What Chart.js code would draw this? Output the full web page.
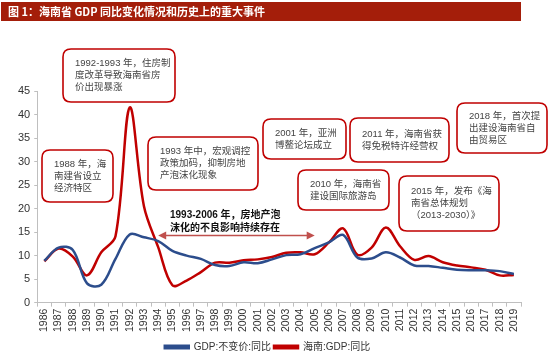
<!DOCTYPE html>
<html>
<head>
<meta charset="utf-8">
<script src="https://cdn.jsdelivr.net/npm/chart.js@4/dist/chart.umd.min.js"></script>
<style>
html,body{margin:0;padding:0;background:#fff;}
#wrap{width:553px;height:357px;position:relative;}
</style>
</head>
<body>
<div id="wrap"><canvas id="c" width="553" height="357"></canvas></div>
<script>
const years = ['1986','1987','1988','1989','1990','1991','1992','1993','1994','1995','1996','1997','1998','1999','2000','2001','2002','2003','2004','2005','2006','2007','2008','2009','2010','2011','2012','2013','2014','2015','2016','2017','2018','2019'];
const gdpChina = [8.9,11.7,11.2,4.1,3.8,9.3,14.5,13.9,13.1,11.0,10.0,9.3,8.0,7.8,8.6,8.4,9.2,10.1,10.3,11.6,12.8,14.4,9.6,9.4,10.7,9.6,7.9,7.8,7.4,7.0,6.9,6.9,6.7,6.1];
const gdpHainan = [8.8,11.5,9.8,5.8,10.7,14.1,41.5,20.5,11.8,3.7,4.7,6.5,8.5,8.5,9.0,9.2,9.7,10.6,10.7,10.3,12.8,15.8,10.2,11.7,16.0,12.0,9.1,9.9,8.6,7.9,7.5,7.0,5.8,5.9];
const seriesNames = ['GDP:不变价:同比','海南:GDP:同比'];
const yTicks = {min:0,max:45,step:5};
const titleText = '图 1：海南省 GDP 同比变化情况和历史上的重大事件';
const notes = [
  {x:63,y:49,w:112,h:53,lines:['1992-1993 年，住房制','度改革导致海南省房','价出现暴涨']},
  {x:42,y:150,w:71,h:52,lines:['1988 年，海','南建省设立','经济特区']},
  {x:148,y:137,w:110,h:53,lines:['1993 年中，宏观调控','政策加码，抑制房地','产泡沫化现象']},
  {x:263,y:119,w:83,h:40,lines:['2001 年，亚洲','博鳌论坛成立']},
  {x:350,y:118,w:99,h:44,lines:['2011 年，海南省获','得免税特许经营权']},
  {x:457,y:103,w:90,h:50,lines:['2018 年，首次提','出建设海南省自','由贸易区']},
  {x:298,y:170,w:91,h:40,lines:['2010 年，海南省','建设国际旅游岛']},
  {x:399,y:176,w:100,h:55,lines:['2015 年，发布《海','南省总体规划','（2013-2030）》']}
];
const boldNote = ['1993-2006 年，房地产泡','沫化的不良影响持续存在'];
const arrowSpan = ['1994','2005'];

const CJK = '"Liberation Sans","Noto Sans CJK SC",sans-serif';

function roundRect(ctx,x,y,w,h,r){
  ctx.beginPath();
  ctx.moveTo(x+r,y);
  ctx.lineTo(x+w-r,y);ctx.quadraticCurveTo(x+w,y,x+w,y+r);
  ctx.lineTo(x+w,y+h-r);ctx.quadraticCurveTo(x+w,y+h,x+w-r,y+h);
  ctx.lineTo(x+r,y+h);ctx.quadraticCurveTo(x,y+h,x,y+h-r);
  ctx.lineTo(x,y+r);ctx.quadraticCurveTo(x,y,x+r,y);
  ctx.closePath();
}

const decor = {
  id:'decor',
  afterLayout(chart){
    const lg = chart.legend;
    if(lg){ lg.top += 5; lg.bottom += 5; if(lg.adjustHitBoxes) lg.adjustHitBoxes(); }
  },
  beforeDraw(chart){
    const ctx = chart.ctx;
    ctx.save();
    ctx.fillStyle='#fff';ctx.fillRect(0,0,chart.width,chart.height);
    ctx.fillStyle='#A41E0A';
    ctx.fillRect(1,2,520,19);
    ctx.fillStyle='#fff';
    ctx.font='bold 11px "Noto Sans CJK SC",sans-serif';
    ctx.textBaseline='middle';
    ctx.fillText(titleText,8,12);
    ctx.restore();
  },
  afterDraw(chart){
    const ctx = chart.ctx;
    ctx.save();
    const xs = chart.scales.x;
    const x1 = xs.getPixelForValue(years.indexOf(arrowSpan[0]));
    const x2 = xs.getPixelForValue(years.indexOf(arrowSpan[1]));
    const ay = 235.5;
    ctx.strokeStyle='#C0504D';ctx.fillStyle='#C0504D';ctx.lineWidth=1.5;
    ctx.beginPath();ctx.moveTo(x1+5,ay);ctx.lineTo(x2-5,ay);ctx.stroke();
    ctx.beginPath();ctx.moveTo(x1,ay);ctx.lineTo(x1+8,ay-4);ctx.lineTo(x1+8,ay+4);ctx.closePath();ctx.fill();
    ctx.beginPath();ctx.moveTo(x2,ay);ctx.lineTo(x2-8,ay-4);ctx.lineTo(x2-8,ay+4);ctx.closePath();ctx.fill();
    ctx.fillStyle='#111';
    ctx.font='bold 10px '+CJK;
    ctx.textBaseline='middle';
    ctx.fillText(boldNote[0],170,215);
    ctx.fillText(boldNote[1],170,228);
    notes.forEach(n=>{
      roundRect(ctx,n.x,n.y,n.w,n.h,8);
      ctx.fillStyle='#fff';ctx.fill();
      ctx.strokeStyle='#C00000';ctx.lineWidth=1.6;ctx.stroke();
      ctx.fillStyle='#444';
      ctx.font='9.5px '+CJK;
      ctx.textBaseline='middle';
      const lh = 12;
      const total = lh*(n.lines.length-1);
      const cy = n.y+n.h/2 - total/2;
      n.lines.forEach((l,i)=>ctx.fillText(l,n.x+12,cy+i*lh));
    });
    ctx.restore();
  }
};

new Chart(document.getElementById('c'),{
  type:'line',
  data:{
    labels:years,
    datasets:[
      {label:seriesNames[0],data:gdpChina,borderColor:'#2C4D8C',backgroundColor:'#2C4D8C',borderWidth:2.5,pointRadius:0,tension:0.35,fill:false},
      {label:seriesNames[1],data:gdpHainan,borderColor:'#C00000',backgroundColor:'#C00000',borderWidth:2.5,pointRadius:0,tension:0.35,fill:false}
    ]
  },
  options:{
    responsive:false,animation:false,
    layout:{padding:{left:14,right:32,top:91,bottom:0}},
    plugins:{
      legend:{position:'bottom',labels:{boxWidth:24,boxHeight:2.5,color:'#333',font:{size:10,family:CJK},padding:3}},
      tooltip:{enabled:false}
    },
    scales:{
      x:{offset:true,
        grid:{display:true,offset:true,drawOnChartArea:false,tickLength:4,color:'#BFBFBF'},
        border:{color:'#BFBFBF'},
        ticks:{autoSkip:false,maxRotation:90,minRotation:90,color:'#333',font:{size:10.5,family:'"Liberation Sans",sans-serif'},padding:2}
      },
      y:{min:yTicks.min,max:yTicks.max,
        grid:{display:true,drawOnChartArea:false,tickLength:3,color:'#BFBFBF'},
        border:{color:'#BFBFBF'},
        ticks:{stepSize:yTicks.step,color:'#333',font:{size:11,family:'"Liberation Sans",sans-serif'},padding:4}
      }
    }
  },
  plugins:[decor]
});
</script>
</body>
</html>
